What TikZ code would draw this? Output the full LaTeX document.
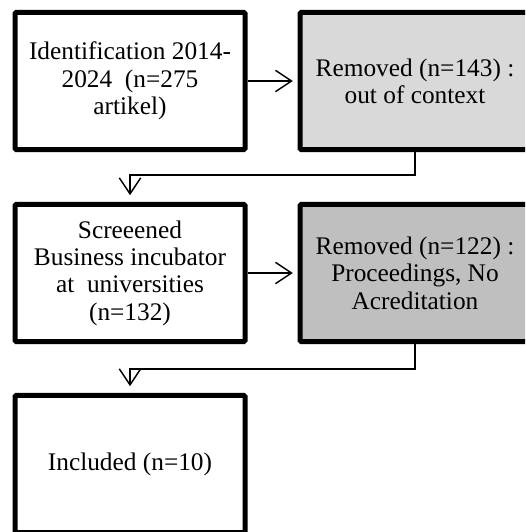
\documentclass[tikz,border=0pt]{standalone}
\usepackage{fontspec}
\setmainfont{Liberation Serif}
\usetikzlibrary{arrows.meta}

\begin{document}
\begin{tikzpicture}[
    x=0.75pt, y=-0.75pt,
    >={Straight Barb[length=12pt, width=16pt]},
    every node/.style={font=\fontsize{19}{20.5}\selectfont},
    box/.style={draw, line width=3.75pt, rounded corners=1pt, align=center,
        minimum width=172.5pt, minimum height=103pt, inner sep=0pt},
    link/.style={->, line width=1.1pt},
]
\path[use as bounding box, clip] (0,0) rectangle (525,532);

% Boxes
\node[box] (ident) at (130,81) {Identification 2014-\\2024 \ (n=275\\artikel)};
\node[box, fill={rgb,255:red,217;green,217;blue,217}] (removedA) at (415,81)
    {Removed (n=143) :\\out of context};
\node[box] (screened) at (130,273) {Screeened\\Business incubator\\at \ universities\\(n=132)};
\node[box, fill={rgb,255:red,191;green,191;blue,191}] (removedB) at (415,273)
    {Removed (n=122) :\\Proceedings, No\\Acreditation};
\node[box] (included) at (130,464) {Included (n=10)};

% Bends of the connectors
\coordinate (bendA) at (130,175);
\coordinate (bendB) at (130,369);

% Connectors
\draw[link, shorten >=3.5pt] (ident) -- (removedA);
\draw[link, shorten >=3.5pt] (screened) -- (removedB);
\draw[link, shorten >=5pt] (removedA.south) |- (bendA) -- (screened.north);
\draw[link, shorten >=5pt] (removedB.south) |- (bendB) -- (included.north);

\end{tikzpicture}
\end{document}
